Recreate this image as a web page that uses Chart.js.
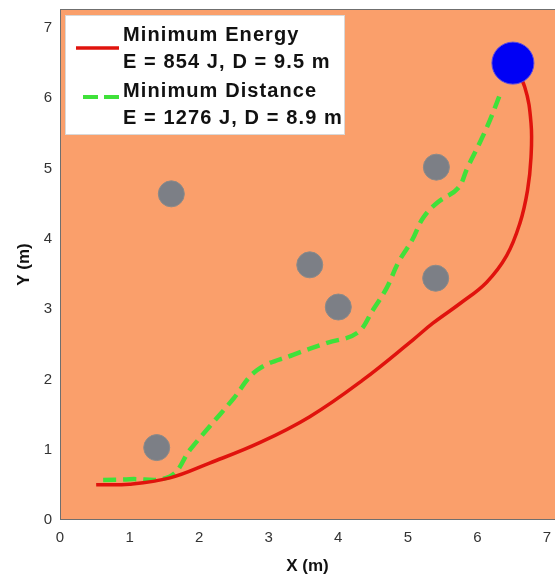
<!DOCTYPE html>
<html><head><meta charset="utf-8">
<script src="https://cdn.jsdelivr.net/npm/chart.js@4/dist/chart.umd.min.js"></script>
<style>html,body{margin:0;padding:0;background:#fff;overflow:hidden;} #wrap{width:555px;height:579px;position:relative;}</style>
</head><body><div id="wrap"><canvas id="c" width="555" height="579"></canvas></div>
<script>
// ---- data ----
const xTicks = [0, 1, 2, 3, 4, 5, 6, 7];
const yTicks = [0, 1, 2, 3, 4, 5, 6, 7];

const energyX = [0.52, 1.0, 1.58, 2.15, 2.87, 3.59, 4.35, 5.07, 5.36, 5.75, 6.13, 6.42, 6.61, 6.72, 6.77, 6.77, 6.68, 6.5];
const energyY = [0.50, 0.51, 0.60, 0.81, 1.10, 1.47, 1.99, 2.56, 2.80, 3.08, 3.38, 3.76, 4.22, 4.69, 5.16, 5.65, 6.16, 6.5];

const distanceX = [0.62, 1.0, 1.58, 1.87, 2.15, 2.48, 2.83, 3.35, 3.84, 4.27, 4.5, 4.7, 4.86, 5.06, 5.22, 5.43, 5.72, 5.86, 6.03, 6.18, 6.35];
const distanceY = [0.57, 0.58, 0.62, 1.0, 1.33, 1.71, 2.13, 2.35, 2.52, 2.66, 2.99, 3.31, 3.66, 3.98, 4.30, 4.52, 4.72, 5.02, 5.36, 5.69, 6.12];

const obstacleX = [1.6, 3.59, 4.0, 5.41, 5.4, 1.39];
const obstacleY = [4.64, 3.63, 3.03, 5.02, 3.44, 1.03];

const goalX = [6.51];
const goalY = [6.5];

const seriesNames = ['Minimum Energy', 'Minimum Distance'];
const seriesStats = ['E = 854 J, D = 9.5 m', 'E = 1276 J, D = 8.9 m'];
const xTitle = 'X (m)';
const yTitle = 'Y (m)';

// ---- build ----
const pts = (xs, ys) => xs.map((x, i) => ({x: x, y: ys[i]}));
const RED = '#e0130d', GREEN = '#3fe13a', ORANGE = '#fa9f6b';

const bgPlugin = {
  id: 'bg',
  beforeDatasetsDraw(chart) {
    const a = chart.chartArea, ctx = chart.ctx;
    ctx.save();
    ctx.fillStyle = ORANGE;
    ctx.fillRect(a.left, a.top, a.right - a.left, a.bottom - a.top);
    ctx.strokeStyle = '#6f6f6f';
    ctx.lineWidth = 1;
    ctx.beginPath();
    ctx.moveTo(a.left, a.top + 0.5); ctx.lineTo(a.right, a.top + 0.5);
    ctx.moveTo(a.left + 0.5, a.top); ctx.lineTo(a.left + 0.5, a.bottom);
    ctx.moveTo(a.left, a.bottom - 0.5); ctx.lineTo(a.right, a.bottom - 0.5);
    ctx.stroke();
    ctx.restore();
  }
};

const legendPlugin = {
  id: 'boxLegend',
  afterDatasetsDraw(chart) {
    const ctx = chart.ctx;
    ctx.save();
    ctx.fillStyle = '#ffffff';
    ctx.fillRect(65, 15, 280, 120);
    ctx.strokeStyle = '#d8d8d8';
    ctx.lineWidth = 1;
    ctx.strokeRect(65.5, 15.5, 279, 119);
    // red sample
    ctx.strokeStyle = RED; ctx.lineWidth = 3.5; ctx.setLineDash([]);
    ctx.beginPath(); ctx.moveTo(76, 48); ctx.lineTo(119, 48); ctx.stroke();
    // green sample
    ctx.strokeStyle = GREEN; ctx.lineWidth = 4; ctx.setLineDash([15, 6]);
    ctx.beginPath(); ctx.moveTo(83, 97); ctx.lineTo(120, 97); ctx.stroke();
    ctx.setLineDash([]);
    ctx.fillStyle = '#111';
    ctx.font = 'bold 20px "Liberation Sans", Arial, sans-serif';
    try { ctx.letterSpacing = '1.1px'; } catch (e) {}
    ctx.textBaseline = 'middle';
    ctx.textAlign = 'left';
    ctx.fillText(seriesNames[0], 123, 35);
    ctx.fillText(seriesStats[0], 123, 62);
    ctx.fillText(seriesNames[1], 123, 91);
    ctx.fillText(seriesStats[1], 123, 118);
    ctx.restore();
  }
};

const tickFont = {family: '"Liberation Sans", Arial, sans-serif', size: 15};
const titleFont = {family: '"Liberation Sans", Arial, sans-serif', size: 17, weight: 'bold'};

new Chart(document.getElementById('c'), {
  type: 'scatter',
  data: {
    datasets: [
      {label: 'Goal', data: pts(goalX, goalY), pointRadius: 21, pointHoverRadius: 21,
       backgroundColor: '#0000f5', borderColor: '#5a4be0', borderWidth: 1, showLine: false},
      {label: seriesNames[0], data: pts(energyX, energyY), showLine: true, pointRadius: 0,
       borderColor: RED, borderWidth: 3.5, tension: 0.4, fill: false},
      {label: seriesNames[1], data: pts(distanceX, distanceY), showLine: true, pointRadius: 0,
       borderColor: GREEN, borderWidth: 4.5, borderDash: [13, 7], tension: 0.4, fill: false},
      {label: 'Obstacles', data: pts(obstacleX, obstacleY), pointRadius: 13, pointHoverRadius: 13,
       backgroundColor: '#7c7f86', borderColor: '#8a8a8a', borderWidth: 1, showLine: false}
    ]
  },
  options: {
    responsive: false,
    animation: false,
    events: [],
    layout: {autoPadding: false, padding: {top: 9, right: 0, left: 0, bottom: 0}},
    plugins: {legend: {display: false}, tooltip: {enabled: false}},
    scales: {
      x: {
        type: 'linear', min: 0, max: 7.115,
        afterBuildTicks: s => { s.ticks = xTicks.map(v => ({value: v})); },
        afterFit: s => { s.height = 59; s.paddingLeft = 0; s.paddingRight = 0; },
        grid: {display: false, drawTicks: false},
        border: {display: false},
        ticks: {font: tickFont, color: '#333', padding: 9, maxRotation: 0},
        title: {display: true, text: xTitle, font: titleFont, color: '#111', padding: {top: 0, bottom: 2}}
      },
      y: {
        type: 'linear', min: 0, max: 7.27,
        afterBuildTicks: s => { s.ticks = yTicks.map(v => ({value: v})); },
        afterFit: s => { s.width = 60; s.paddingTop = 0; s.paddingBottom = 0; },
        grid: {display: false, drawTicks: false},
        border: {display: false},
        ticks: {font: tickFont, color: '#333', padding: 8},
        title: {display: true, text: yTitle, font: titleFont, color: '#111', padding: {top: 14, bottom: 0}}
      }
    }
  },
  plugins: [bgPlugin, legendPlugin]
});
</script>
</body></html>
